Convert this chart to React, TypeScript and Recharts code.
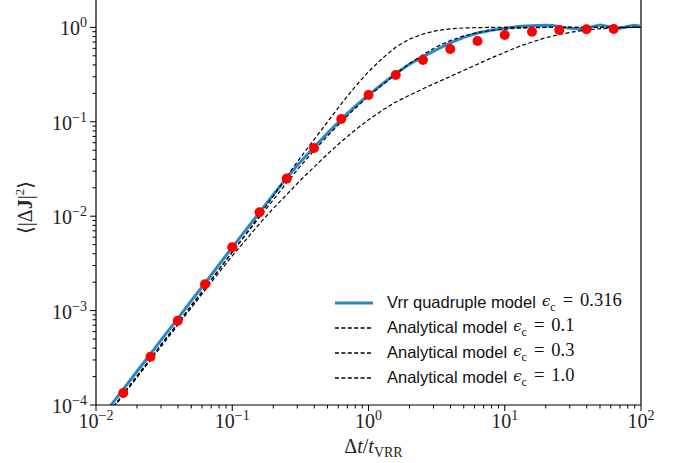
import { ComposedChart, Line, Scatter, XAxis, YAxis, Legend, ReferenceLine } from 'recharts'

// Δt / t_VRR sample points of the analytical curves
const tGrid = [
  0.01259, 0.01585, 0.01995, 0.02512, 0.03162, 0.03981, 0.05012, 0.0631, 0.07943, 0.1,
  0.1259, 0.1585, 0.1995, 0.2512, 0.3162, 0.3981, 0.5012, 0.631, 0.7943, 1,
  1.259, 1.585, 1.995, 2.512, 3.162, 3.981, 5.012, 6.31, 7.943, 10,
  12.59, 15.85, 19.95, 25.12, 31.62, 39.81, 50.12, 63.1, 79.43, 100,
]

// analytical model, eps_c = 0.1 (fastest saturation)
const modelEps01 = [
  8.51e-5, 1.303e-4, 2.018e-4, 3.09e-4, 4.79e-4, 7.33e-4, 1.135e-3, 1.738e-3, 2.69e-3, 4.17e-3,
  6.46e-3, 1.023e-2, 1.622e-2, 2.63e-2, 4.17e-2, 6.46e-2, 0.1, 0.155, 0.234, 0.339,
  0.468, 0.617, 0.75, 0.851, 0.923, 0.966, 0.986, 0.995, 0.999, 1,
  1, 1, 1, 1, 1, 1, 1, 1, 1, 1,
]

// analytical model, eps_c = 0.3
const modelEps03 = [
  8.51e-5, 1.303e-4, 2.018e-4, 3.09e-4, 4.79e-4, 7.33e-4, 1.135e-3, 1.738e-3, 2.69e-3, 4.17e-3,
  6.38e-3, 9.77e-3, 1.479e-2, 2.265e-2, 3.39e-2, 4.95e-2, 7.08e-2, 0.1, 0.138, 0.186,
  0.245, 0.32, 0.412, 0.513, 0.624, 0.724, 0.813, 0.881, 0.929, 0.959,
  0.979, 0.991, 0.998, 1, 1, 1, 1, 1, 1, 1,
]

// analytical model, eps_c = 1.0 (slowest)
const modelEps10 = [
  8.32e-5, 1.274e-4, 1.95e-4, 2.985e-4, 4.57e-4, 7.0e-4, 1.072e-3, 1.641e-3, 2.512e-3, 3.8e-3,
  5.62e-3, 8.32e-3, 1.202e-2, 1.698e-2, 2.4e-2, 3.31e-2, 4.57e-2, 6.17e-2, 8.13e-2, 0.105,
  0.132, 0.162, 0.1905, 0.224, 0.26, 0.302, 0.351, 0.407, 0.473, 0.543,
  0.624, 0.7, 0.776, 0.841, 0.895, 0.937, 0.968, 0.986, 0.995, 1,
]

// Vrr quadruple model run
const vrrT = [
  0.01259, 0.01585, 0.01995, 0.02512, 0.03162, 0.03981, 0.05012, 0.0631, 0.07943, 0.1,
  0.1259, 0.1585, 0.1995, 0.2512, 0.3162, 0.3981, 0.5012, 0.631, 0.7943, 1,
  1.259, 1.585, 1.995, 2.512, 3.162, 3.981, 5.012, 6.31, 7.943, 10,
  11.22, 12.59, 14.13, 15.85, 17.78, 19.95, 22.39, 25.12, 28.18, 31.62,
  35.48, 39.81, 44.67, 50.12, 56.23, 63.1, 70.79, 79.43, 89.13, 100,
]
const vrrValues = [
  9.55e-5, 1.462e-4, 2.265e-4, 3.467e-4, 5.37e-4, 8.22e-4, 1.274e-3, 1.95e-3, 3.02e-3, 4.68e-3,
  7.16e-3, 1.096e-2, 1.679e-2, 2.54e-2, 3.76e-2, 5.37e-2, 7.59e-2, 0.106, 0.1445, 0.193,
  0.251, 0.324, 0.407, 0.49, 0.582, 0.684, 0.785, 0.871, 0.933, 0.977,
  1.0, 1.019, 1.033, 1.042, 1.047, 1.052, 1.047, 1.019, 0.989, 0.973,
  0.962, 0.973, 1.023, 1.059, 1.028, 0.989, 0.982, 1.023, 1.052, 1.028,
]

// red points
const simT = [
  0.01585, 0.02512, 0.03981, 0.0631, 0.1, 0.1585, 0.2512, 0.3981, 0.631, 1,
  1.585, 2.512, 3.981, 6.31, 10, 15.85, 25.12, 39.81, 63.1,
]
const simValues = [
  1.34e-4, 3.24e-4, 7.8e-4, 1.9e-3, 4.7e-3, 1.1e-2, 2.5e-2, 5.28e-2, 0.107, 0.192,
  0.313, 0.452, 0.59, 0.718, 0.83, 0.9, 0.94, 0.955, 0.96,
]

const xMajor = [0.01, 0.1, 1, 10, 100]
const xExp = ['−2', '−1', '0', '1', '2']
const yMajor = [1e-4, 1e-3, 1e-2, 1e-1, 1]
const yExp = ['−4', '−3', '−2', '−1', '0']

const legendNames = ['Vrr quadruple model', 'Analytical model', 'Analytical model', 'Analytical model']
const legendEps = ['0.316', '0.1', '0.3', '1.0']

const BLUE = '#2c88c4'
const SERIF = "'Liberation Serif', 'DejaVu Serif', serif"
const DASH = '4 2.4'

const rows = (xs: number[], ys: number[]) => xs.map((t, i) => ({ t, v: ys[i] }))

const withMinor = (majors: number[]) =>
  majors.flatMap((m, i) => (i === majors.length - 1 ? [m] : [m, 2 * m, 3 * m, 4 * m, 5 * m, 6 * m, 7 * m, 8 * m, 9 * m]))

const majorIndex = (majors: number[], v: number) => majors.findIndex((m) => Math.abs(v / m - 1) < 1e-6)

function XTick(props: any) {
  const { x, y, payload } = props
  const i = majorIndex(xMajor, payload.value)
  return (
    <g>
      <line x1={x} x2={x} y1={y} y2={y + (i >= 0 ? 6 : 3.5)} stroke="#000" strokeWidth={1} />
      {i >= 0 && (
        <text x={x} y={y + 23} textAnchor="middle" fontFamily={SERIF} fontSize={20} fill="#222">
          10<tspan dy={-8} fontSize={14}>{xExp[i]}</tspan>
        </text>
      )}
    </g>
  )
}

function YTick(props: any) {
  const { x, y, payload } = props
  const i = majorIndex(yMajor, payload.value)
  return (
    <g>
      <line x1={x} x2={x - (i >= 0 ? 6 : 3.5)} y1={y} y2={y} stroke="#000" strokeWidth={1} />
      {i >= 0 && (
        <text x={x - 9} y={y + 8} textAnchor="end" fontFamily={SERIF} fontSize={20} fill="#222">
          10<tspan dy={-8} fontSize={14}>{yExp[i]}</tspan>
        </text>
      )}
    </g>
  )
}

function LegendBox() {
  return (
    <div style={{ fontFamily: "'Liberation Sans', Arial, sans-serif", fontSize: 16.5, color: '#111' }}>
      {legendNames.map((name, i) => (
        <div key={i} style={{ height: 25, display: 'flex', alignItems: 'center', whiteSpace: 'nowrap' }}>
          <svg width={52} height={10} style={{ flex: 'none' }}>
            {i === 0 ? (
              <line x1={0} x2={38} y1={5} y2={5} stroke={BLUE} strokeWidth={3} />
            ) : (
              <line x1={0} x2={38} y1={5} y2={5} stroke="#000" strokeWidth={1.3} strokeDasharray={DASH} />
            )}
          </svg>
          <span>{name}</span>
          <span style={{ fontFamily: SERIF, fontSize: 18.5, marginLeft: 6 }}>
            <span style={{ fontFamily: "'DejaVu Serif', serif", fontStyle: 'italic', fontSize: 15 }}>ϵ</span>
            <sub style={{ fontSize: 12 }}>c</sub>
            <span style={{ margin: '0 7px' }}>=</span>
            {legendEps[i]}
          </span>
        </div>
      ))}
    </div>
  )
}

function YLabel(props: any) {
  const { viewBox } = props
  const cx = viewBox.x + 25
  const cy = viewBox.y + viewBox.height / 2 + 5
  return (
    <text transform={`rotate(-90, ${cx}, ${cy})`} x={cx} y={cy + 7} textAnchor="middle" fontFamily={SERIF} fontSize={20} fill="#222">
      ⟨|Δ<tspan fontWeight="bold">J</tspan>|<tspan dy={-8} fontSize={13}>2</tspan><tspan dy={8}>⟩</tspan>
    </text>
  )
}

function XLabel(props: any) {
  const { viewBox } = props
  const cx = viewBox.x + viewBox.width / 2 + 5
  return (
    <text x={cx} y={viewBox.y + 48} textAnchor="middle" fontFamily={SERIF} fontSize={20} fill="#222">
      Δ<tspan fontStyle="italic">t</tspan>/<tspan fontStyle="italic">t</tspan>
      <tspan dy={4} fontSize={14}>VRR</tspan>
    </text>
  )
}

export default function App() {
  return (
    <div style={{ position: 'absolute', left: 0, top: 0, width: 691, height: 463, background: '#fff' }}>
      <ComposedChart width={691} height={463} margin={{ top: 0, right: 50, bottom: 0, left: 0 }}>
        <XAxis
          dataKey="t"
          type="number"
          scale="log"
          domain={[0.01, 100]}
          allowDataOverflow
          ticks={withMinor(xMajor)}
          interval={0}
          tick={<XTick />}
          tickLine={false}
          tickSize={0}
          tickMargin={0}
          height={58}
          axisLine={{ stroke: '#000', strokeWidth: 1.2 }}
          label={<XLabel />}
        />
        <YAxis
          type="number"
          scale="log"
          domain={[1e-4, 1.95]}
          allowDataOverflow
          ticks={withMinor(yMajor)}
          interval={0}
          tick={<YTick />}
          tickLine={false}
          tickSize={0}
          tickMargin={0}
          width={96}
          axisLine={{ stroke: '#000', strokeWidth: 1.2 }}
          label={<YLabel />}
        />
        <ReferenceLine x={100} stroke="#000" strokeWidth={1.2} />
        <Line data={rows(vrrT, vrrValues)} dataKey="v" stroke={BLUE} strokeWidth={3} dot={false} isAnimationActive={false} name="vrr" />
        <Line data={rows(tGrid, modelEps01)} dataKey="v" stroke="#000" strokeWidth={1.2} strokeDasharray={DASH} dot={false} isAnimationActive={false} name="eps01" />
        <Line data={rows(tGrid, modelEps03)} dataKey="v" stroke="#000" strokeWidth={1.2} strokeDasharray={DASH} dot={false} isAnimationActive={false} name="eps03" />
        <Line data={rows(tGrid, modelEps10)} dataKey="v" stroke="#000" strokeWidth={1.2} strokeDasharray={DASH} dot={false} isAnimationActive={false} name="eps10" />
        <Scatter
          data={rows(simT, simValues)}
          dataKey="v"
          fill="#ff0000"
          isAnimationActive={false}
          shape={(p: any) => <circle cx={p.cx} cy={p.cy} r={5} fill="#ff0000" />}
        />
        <Legend
          layout="vertical"
          align="center"
          verticalAlign="middle"
          wrapperStyle={{ position: 'absolute', left: 335, top: 290, width: 320 }}
          content={() => <LegendBox />}
        />
      </ComposedChart>
    </div>
  )
}
